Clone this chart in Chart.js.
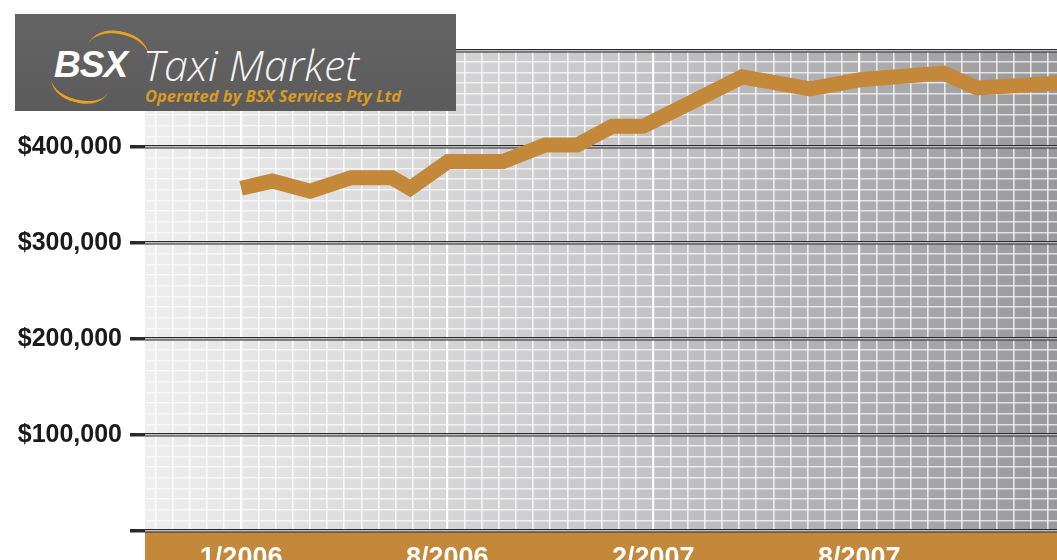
<!DOCTYPE html>
<html>
<head>
<meta charset="utf-8">
<script src="https://cdn.jsdelivr.net/npm/chart.js@4/dist/chart.umd.min.js"></script>
<style>
  html, body { margin: 0; padding: 0; background: #fff; overflow: hidden; }
  .wrap { position: relative; width: 1057px; height: 560px; }
  .logo {
    position: absolute; left: 15px; top: 14px; width: 441px; height: 97px;
    background: linear-gradient(180deg, #646464, #5b5b5b);
    font-family: "Liberation Sans", Arial, sans-serif;
  }
  .logo .bsx {
    position: absolute; left: 39px; top: 30px; color: #fff;
    font: italic bold 37px "Liberation Sans", Arial, sans-serif; letter-spacing: -1px;
  }
  .logo .name {
    position: absolute; left: 128px; top: 21px; color: #f4f4f4;
    font: italic 300 43px "Open Sans", Lato, sans-serif;
  }
  .logo .sub {
    position: absolute; left: 130px; top: 70px; color: #d99b26;
    font: italic bold 16.5px "Open Sans", Lato, sans-serif;
  }
  .logo .arc-top {
    position: absolute; left: 72px; top: 17px; width: 62px; height: 40px;
    border-top: 3px solid #e8a21c; border-radius: 50%; transform: rotate(12deg);
  }
  .logo .arc-bot {
    position: absolute; left: 36px; top: 52px; width: 58px; height: 34px;
    border-bottom: 3px solid #e8a21c; border-radius: 50%; transform: rotate(14deg);
  }
</style>
</head>
<body>
<div class="wrap">
  <canvas id="chart" width="1057" height="560"></canvas>
  <div class="logo">
    <span class="arc-top"></span><span class="arc-bot"></span>
    <span class="bsx">BSX</span>
    <span class="name">Taxi Market</span>
    <span class="sub">Operated by BSX Services Pty Ltd</span>
  </div>
</div>
<script>
// position along the time axis, in grid steps from 1/2006 (the axis is not evenly spaced in months)
const periods = [0, 1.81, 4.02, 6.41, 8.79, 9.84, 12.06, 15.26, 17.71, 19.57, 21.61, 23.41, 29.18, 33.14, 36.05, 40.89, 42.87, 47.6];
const prices = [357000, 364500, 354000, 368000, 368000, 357000, 385000, 385000, 402000, 402000, 421500, 421500, 473000, 460500, 470000, 477000, 461500, 466500];
const xTickLabels = { 0: '1/2006', 12: '8/2006', 24: '2/2007', 36: '8/2007' };
const yTicks = [0, 100000, 200000, 300000, 400000, 500000];

const ORANGE = '#c4883a';

const backdrop = {
  id: 'backdrop',
  beforeDraw(chart) {
    const { ctx, chartArea: a, width, height } = chart;
    ctx.save();
    ctx.fillStyle = '#fff';
    ctx.fillRect(0, 0, width, height);
    const g = ctx.createLinearGradient(a.left, 0, a.right, 0);
    g.addColorStop(0, '#eeeeee');
    g.addColorStop(0.5, '#c8c8ca');
    g.addColorStop(1, '#99999c');
    ctx.fillStyle = g;
    ctx.fillRect(a.left, a.top, a.right - a.left, a.bottom - a.top);
    ctx.fillStyle = ORANGE;
    ctx.fillRect(a.left, a.bottom, a.right - a.left, height - a.bottom);
    ctx.restore();
  },
};

const range = (from, to, step = 1) => {
  const out = [];
  for (let v = from; v <= to + 1e-9; v += step) out.push(v);
  return out;
};

new Chart(document.getElementById('chart'), {
  type: 'line',
  data: {
    datasets: [{
      data: periods.map((x, i) => ({ x, y: prices[i] })),
      borderColor: ORANGE,
      borderWidth: 15,
      borderCapStyle: 'butt',
      borderJoinStyle: 'miter',
      pointRadius: 0,
      tension: 0,
    }],
  },
  options: {
    responsive: false,
    animation: false,
    layout: { padding: { top: 51, right: 0, left: 0, bottom: 0 } },
    plugins: { legend: { display: false }, tooltip: { enabled: false } },
    scales: {
      x: {
        type: 'linear',
        min: -5.6,
        max: 47.52,
        z: -1,
        afterBuildTicks: (scale) => { scale.ticks = range(-5, 47).map((value) => ({ value })); },
        afterFit: (scale) => { scale.height = 29; scale.paddingLeft = 0; scale.paddingRight = 0; },
        border: { display: false },
        grid: {
          drawTicks: false,
          color: (c) => (c.tick && c.tick.value % 12 === 0 ? 'rgba(255,255,255,1)' : 'rgba(255,255,255,0.75)'),
          lineWidth: (c) => (c.tick && c.tick.value % 12 === 0 ? 2.2 : 1.6),
        },
        ticks: {
          autoSkip: false,
          maxRotation: 0,
          padding: 11,
          color: '#fff',
          font: { family: '"Liberation Sans", Arial, sans-serif', size: 27, weight: 'bold' },
          callback: (value) => xTickLabels[value] ?? '',
        },
      },
      y: {
        min: 0,
        max: 500000,
        z: 0,
        afterBuildTicks: (scale) => { scale.ticks = yTicks.map((value) => ({ value })); },
        afterFit: (scale) => { scale.width = 145; scale.paddingTop = 0; scale.paddingBottom = 0; },
        border: { display: false },
        grid: { color: '#2a2a2a', lineWidth: 3.5, tickLength: 15 },
        ticks: {
          padding: 8,
          color: '#1a1a1a',
          font: { family: '"Liberation Sans", Arial, sans-serif', size: 25, weight: 'bold' },
          callback: (value) => (value > 0 && value < 500000 ? '$' + value.toLocaleString('en-US') : ''),
        },
      },
      yMinor: {
        position: 'left',
        min: 0,
        max: 500000,
        z: -1,
        afterBuildTicks: (scale) => { scale.ticks = range(0, 45).map((i) => ({ value: (i * 100000) / 9 })); },
        afterFit: (scale) => { scale.width = 0; scale.paddingTop = 0; scale.paddingBottom = 0; },
        border: { display: false },
        grid: { drawTicks: false, color: 'rgba(255,255,255,0.7)', lineWidth: 1.6 },
        ticks: { display: false },
      },
    },
  },
  plugins: [backdrop],
});
</script>
</body>
</html>
